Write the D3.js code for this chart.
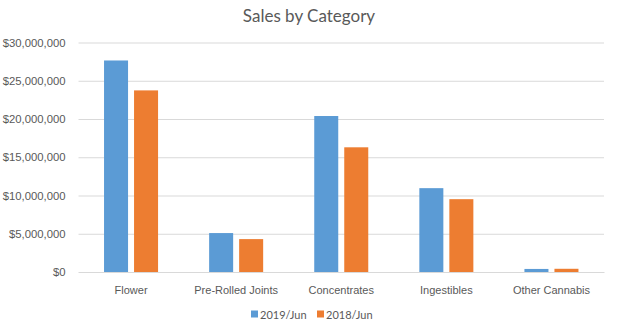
<!DOCTYPE html>
<html>
<head>
<meta charset="utf-8">
<script src="https://cdn.jsdelivr.net/npm/d3@7"></script>
<style>
  html, body { margin: 0; padding: 0; background: #fff; }
  svg { display: block; font-family: Lato, "Open Sans", sans-serif; }
</style>
</head>
<body>
<svg id="chart" width="617" height="325"></svg>
<script>
// Sales by product category, two comparison months
const categories = ["Flower", "Pre-Rolled Joints", "Concentrates", "Ingestibles", "Other Cannabis"];
const seriesNames = ["2019/Jun", "2018/Jun"];
const sales2019 = [27650000, 5090000, 20390000, 10960000, 400000];
const sales2018 = [23740000, 4300000, 16300000, 9520000, 420000];
const yTicks = [0, 5000000, 10000000, 15000000, 20000000, 25000000, 30000000];
const colors = ["#5B9BD5", "#ED7D31"];

const seriesValues = [sales2019, sales2018];
const svg = d3.select("#chart");
const W = 617, H = 325;
const m = { left: 78.5, right: 13, top: 42.5, bottom: 53 };
const plotW = W - m.left - m.right;
const plotH = H - m.top - m.bottom;
const textColor = "#595959";

const x0 = d3.scaleBand().domain(categories).range([0, plotW]).padding(0);
const groupW = x0.bandwidth() * 0.514;
const x1 = d3.scaleBand().domain(seriesNames)
  .range([(x0.bandwidth() - groupW) / 2, (x0.bandwidth() + groupW) / 2])
  .paddingInner(0.2);
const y = d3.scaleLinear().domain([0, 30000000]).range([plotH, 0]);

const g = svg.append("g").attr("transform", `translate(${m.left},${m.top})`);

// Horizontal gridlines with dollar labels
const fmt = d3.format("$,.0f");
const yAxis = d3.axisLeft(y).tickValues(yTicks).tickSize(-plotW).tickPadding(13).tickFormat(fmt);
const ya = g.append("g").call(yAxis);
ya.select(".domain").remove();
ya.selectAll(".tick line").attr("stroke", "#D9D9D9").attr("stroke-width", 1);
ya.selectAll(".tick text").attr("fill", textColor).style("font-size", "11.3px");

// Bars
categories.forEach((c, ci) => {
  seriesNames.forEach((s, si) => {
    const v = seriesValues[si][ci];
    g.append("rect")
      .attr("x", x0(c) + x1(s))
      .attr("y", y(v))
      .attr("width", x1.bandwidth())
      .attr("height", y(0) - y(v))
      .attr("fill", colors[si]);
  });
});

// Category axis
const xAxis = d3.axisBottom(x0).tickSize(0).tickPadding(14);
const xa = g.append("g").attr("transform", `translate(0,${plotH})`).call(xAxis);
xa.select(".domain").attr("stroke", "#D9D9D9");
xa.selectAll(".tick text").attr("fill", textColor).style("font-size", "11px");

// Title
svg.append("text")
  .attr("x", 309).attr("y", 22)
  .attr("text-anchor", "middle")
  .attr("fill", textColor)
  .style("font-size", "17px")
  .text("Sales by Category");

// Legend
const legendX = [251, 317];
const legend = svg.append("g");
seriesNames.forEach((s, i) => {
  legend.append("rect").attr("x", legendX[i]).attr("y", 310.5).attr("width", 7).attr("height", 7).attr("fill", colors[i]);
  legend.append("text").attr("x", legendX[i] + 9).attr("y", 318.5)
    .attr("fill", textColor).style("font-size", "11px").text(s);
});
</script>
</body>
</html>
